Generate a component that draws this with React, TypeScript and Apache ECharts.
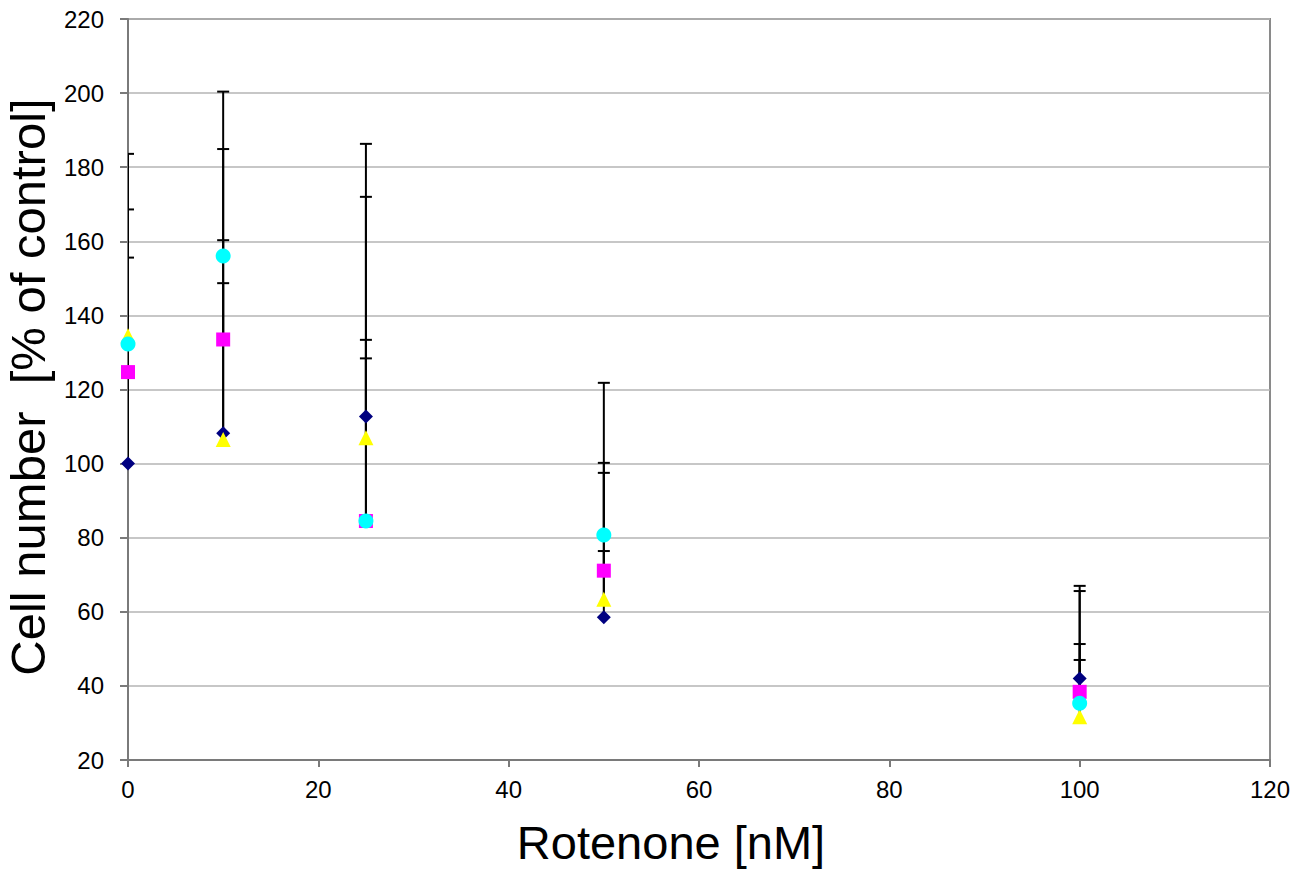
import React, { useEffect, useRef } from "react";
import * as echarts from "echarts";

const doses = [0, 10, 25, 50, 100];

const navyValues = [100, 108.2, 112.7, 58.5, 42.0];
const navyErrorTop = [155.6, 148.7, 133.4, 76.4, 51.3];

const magentaValues = [124.7, 133.5, 84.5, 71.1, 38.4];
const magentaErrorTop = [168.6, 184.9, 172.0, 100.2, 47.0];

const yellowValues = [134.5, 106.5, 107.0, 63.4, 31.7];
const yellowErrorTop: (number | null)[] = [null, 160.3, 128.4, 97.5, 67.0];

const cyanValues = [132.3, 156.0, 84.5, 80.7, 35.3];
const cyanErrorTop = [183.6, 200.4, 186.3, 121.8, 65.6];

const xTitle = "Rotenone [nM]";
const yTitle = "Cell number  [% of control]";

const FONT = "'Liberation Sans', Arial, Helvetica, sans-serif";

function errorSeries(name: string, values: number[], tops: (number | null)[]) {
  const data: number[][] = [];
  doses.forEach((d, i) => {
    const t = tops[i];
    if (t != null) data.push([d, values[i], t]);
  });
  return {
    type: "custom",
    name: name + " error",
    clip: true,
    z: 1,
    silent: true,
    encode: { x: 0, y: [1, 2] },
    data,
    renderItem: (params: any, api: any) => {
      const x = api.value(0);
      const lo = api.coord([x, api.value(1)]);
      const hi = api.coord([x, api.value(2)]);
      return {
        type: "group",
        children: [
          {
            type: "line",
            shape: { x1: lo[0], y1: lo[1], x2: hi[0], y2: hi[1] },
            style: { stroke: "#000000", lineWidth: 2 },
          },
          {
            type: "line",
            shape: { x1: hi[0] - 6, y1: hi[1], x2: hi[0] + 6, y2: hi[1] },
            style: { stroke: "#000000", lineWidth: 2 },
          },
        ],
      };
    },
  };
}

function markerSeries(name: string, values: number[], symbol: string, size: number, color: string, z: number) {
  return {
    type: "scatter",
    name,
    symbol,
    symbolSize: size,
    z,
    clip: false,
    itemStyle: { color, opacity: 1 },
    data: doses.map((d, i) => [d, values[i]]),
  };
}

export default function App() {
  const ref = useRef<HTMLDivElement>(null);

  useEffect(() => {
    if (!ref.current) return;
    const chart = echarts.init(ref.current, undefined, { renderer: "svg" });
    chart.setOption({
      animation: false,
      backgroundColor: "#ffffff",
      grid: {
        left: 128,
        top: 19,
        right: 30,
        bottom: 116,
        show: true,
        borderColor: "#8a8a8a",
        borderWidth: 2,
        backgroundColor: "transparent",
      },
      xAxis: {
        type: "value",
        min: 0,
        max: 120,
        interval: 20,
        axisLine: { show: true, onZero: false, lineStyle: { color: "#7a7a7a", width: 2 } },
        axisTick: { show: true, length: 7, lineStyle: { color: "#7a7a7a", width: 2 } },
        splitLine: { show: false },
        axisLabel: { color: "#000", fontSize: 24, fontFamily: FONT, margin: 17 },
      },
      yAxis: {
        type: "value",
        min: 20,
        max: 220,
        interval: 20,
        axisLine: { show: true, onZero: false, lineStyle: { color: "#7a7a7a", width: 2 } },
        axisTick: { show: true, length: 8, lineStyle: { color: "#7a7a7a", width: 2 } },
        splitLine: { show: true, lineStyle: { color: "#b4b4b4", width: 1.5 } },
        axisLabel: { color: "#000", fontSize: 24, fontFamily: FONT, margin: 24 },
      },
      graphic: [
        {
          type: "text",
          x: 671,
          y: 842,
          style: {
            text: xTitle,
            x: 0,
            y: 0,
            fill: "#000",
            font: `47px ${FONT}`,
            textAlign: "center",
            textVerticalAlign: "middle",
          },
        },
        {
          type: "text",
          x: 28,
          y: 387,
          rotation: Math.PI / 2,
          style: {
            text: yTitle,
            x: 0,
            y: 0,
            fill: "#000",
            font: `49px ${FONT}`,
            textAlign: "center",
            textVerticalAlign: "middle",
          },
        },
      ],
      series: [
        errorSeries("navy", navyValues, navyErrorTop),
        errorSeries("magenta", magentaValues, magentaErrorTop),
        errorSeries("yellow", yellowValues, yellowErrorTop),
        errorSeries("cyan", cyanValues, cyanErrorTop),
        markerSeries("navy", navyValues, "diamond", 14, "#000080", 3),
        markerSeries("magenta", magentaValues, "rect", 14, "#ff00ff", 4),
        markerSeries("yellow", yellowValues, "triangle", 15, "#ffff00", 5),
        markerSeries("cyan", cyanValues, "circle", 15, "#00ffff", 6),
      ],
    });
    return () => chart.dispose();
  }, []);

  return (
    <div
      ref={ref}
      style={{ position: "fixed", left: 0, top: 0, width: 1300, height: 876, background: "#fff" }}
    />
  );
}
